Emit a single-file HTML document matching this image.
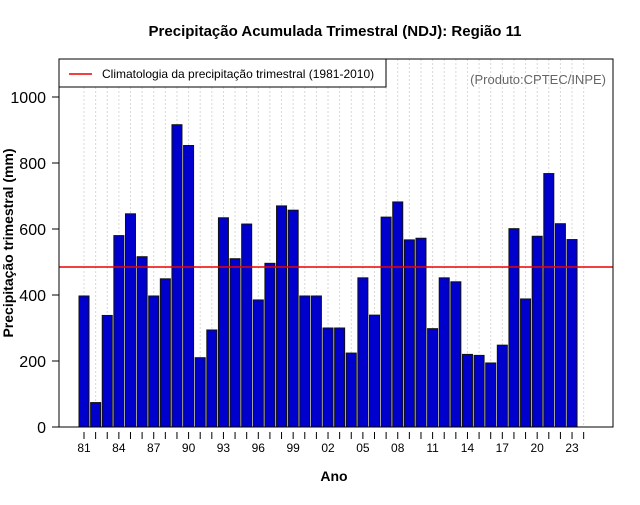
<!DOCTYPE html>
<html><head><meta charset="utf-8"><style>
body{margin:0;background:#fff}
svg{font-family:"Liberation Sans",sans-serif}
</style></head><body>
<svg id="chart" width="640" height="500" viewBox="0 0 640 500" xmlns="http://www.w3.org/2000/svg">
<text x="335" y="36" text-anchor="middle" font-size="15" font-weight="bold">Precipitação Acumulada Trimestral (NDJ): Região 11</text>
<g id="grid"></g>
<g id="bars"></g>
<g id="axes"></g>
<rect x="59" y="59" width="554" height="368" fill="none" stroke="#000" stroke-width="1"/>
<g>
<rect x="59" y="59" width="327" height="28" fill="#fff" stroke="#000"/>
<line x1="69" y1="74" x2="92" y2="74" stroke="#e00" stroke-width="1.5"/>
<text x="102" y="78" font-size="12">Climatologia da precipitação trimestral (1981-2010)</text>
</g>
<text x="606" y="84" text-anchor="end" font-size="13" fill="#666">(Produto:CPTEC/INPE)</text>
<text transform="translate(13,243) rotate(-90)" text-anchor="middle" font-size="14" font-weight="bold">Precipitação trimestral (mm)</text>
<text x="334" y="481" text-anchor="middle" font-size="14" font-weight="bold">Ano</text>
</svg>
<script>
const years = [];
for (let y = 1981; y <= 2023; y++) years.push(y);
const values = [397,74,338,580,646,516,397,449,916,853,210,294,634,510,615,385,496,670,657,397,397,300,300,224,452,339,636,682,567,572,298,452,440,220,217,194,248,601,388,578,768,616,568];
const climatology = 485;
const yTicks = [0,200,400,600,800,1000];
const NS = "http://www.w3.org/2000/svg";
const x0 = 84, step = 11.62, base = 427, pxPer = 0.33;
const xPos = i => x0 + i * step;
const yPos = v => base - v * pxPer;
function mk(tag, attrs, parent){const e=document.createElementNS(NS,tag);for(const k in attrs)e.setAttribute(k,attrs[k]);parent.appendChild(e);return e;}
const grid=document.getElementById('grid'), bars=document.getElementById('bars'), axes=document.getElementById('axes');
for (let i = 0; i <= years.length; i++) {
  const x = xPos(i);
  const g = mk('line',{x1:x,y1:59,x2:x,y2:427,stroke:'#d8d8d8','stroke-dasharray':'2,2'},grid);
  
  
  const t = mk('line',{x1:x,y1:432,x2:x,y2:439,stroke:'#000'},axes);
  
  
}
values.forEach((v, i) => {
  const r = mk('rect',{x:xPos(i)-5,y:yPos(v),width:10,height:v*pxPer,fill:'#0000cc',stroke:'#111','stroke-width':1},bars);
  
  
  if (i % 3 === 0) {
    const l = mk('text',{x:xPos(i),y:452,'text-anchor':'middle','font-size':12},axes);
    l.textContent = String(years[i] % 100).padStart(2,'0');
    
    
  }
});
const cl = mk('line',{x1:59,x2:613,y1:yPos(climatology),y2:yPos(climatology),stroke:'#e00','stroke-width':1.5},bars);


yTicks.forEach(v => {
  const y = yPos(v);
  const t = mk('line',{x1:52,x2:59,y1:y,y2:y,stroke:'#000'},axes);
  
  
  const l = mk('text',{x:46,y:y+6,'text-anchor':'end','font-size':16},axes);
  l.textContent = v;
  
  
});
</script>
</body></html>
